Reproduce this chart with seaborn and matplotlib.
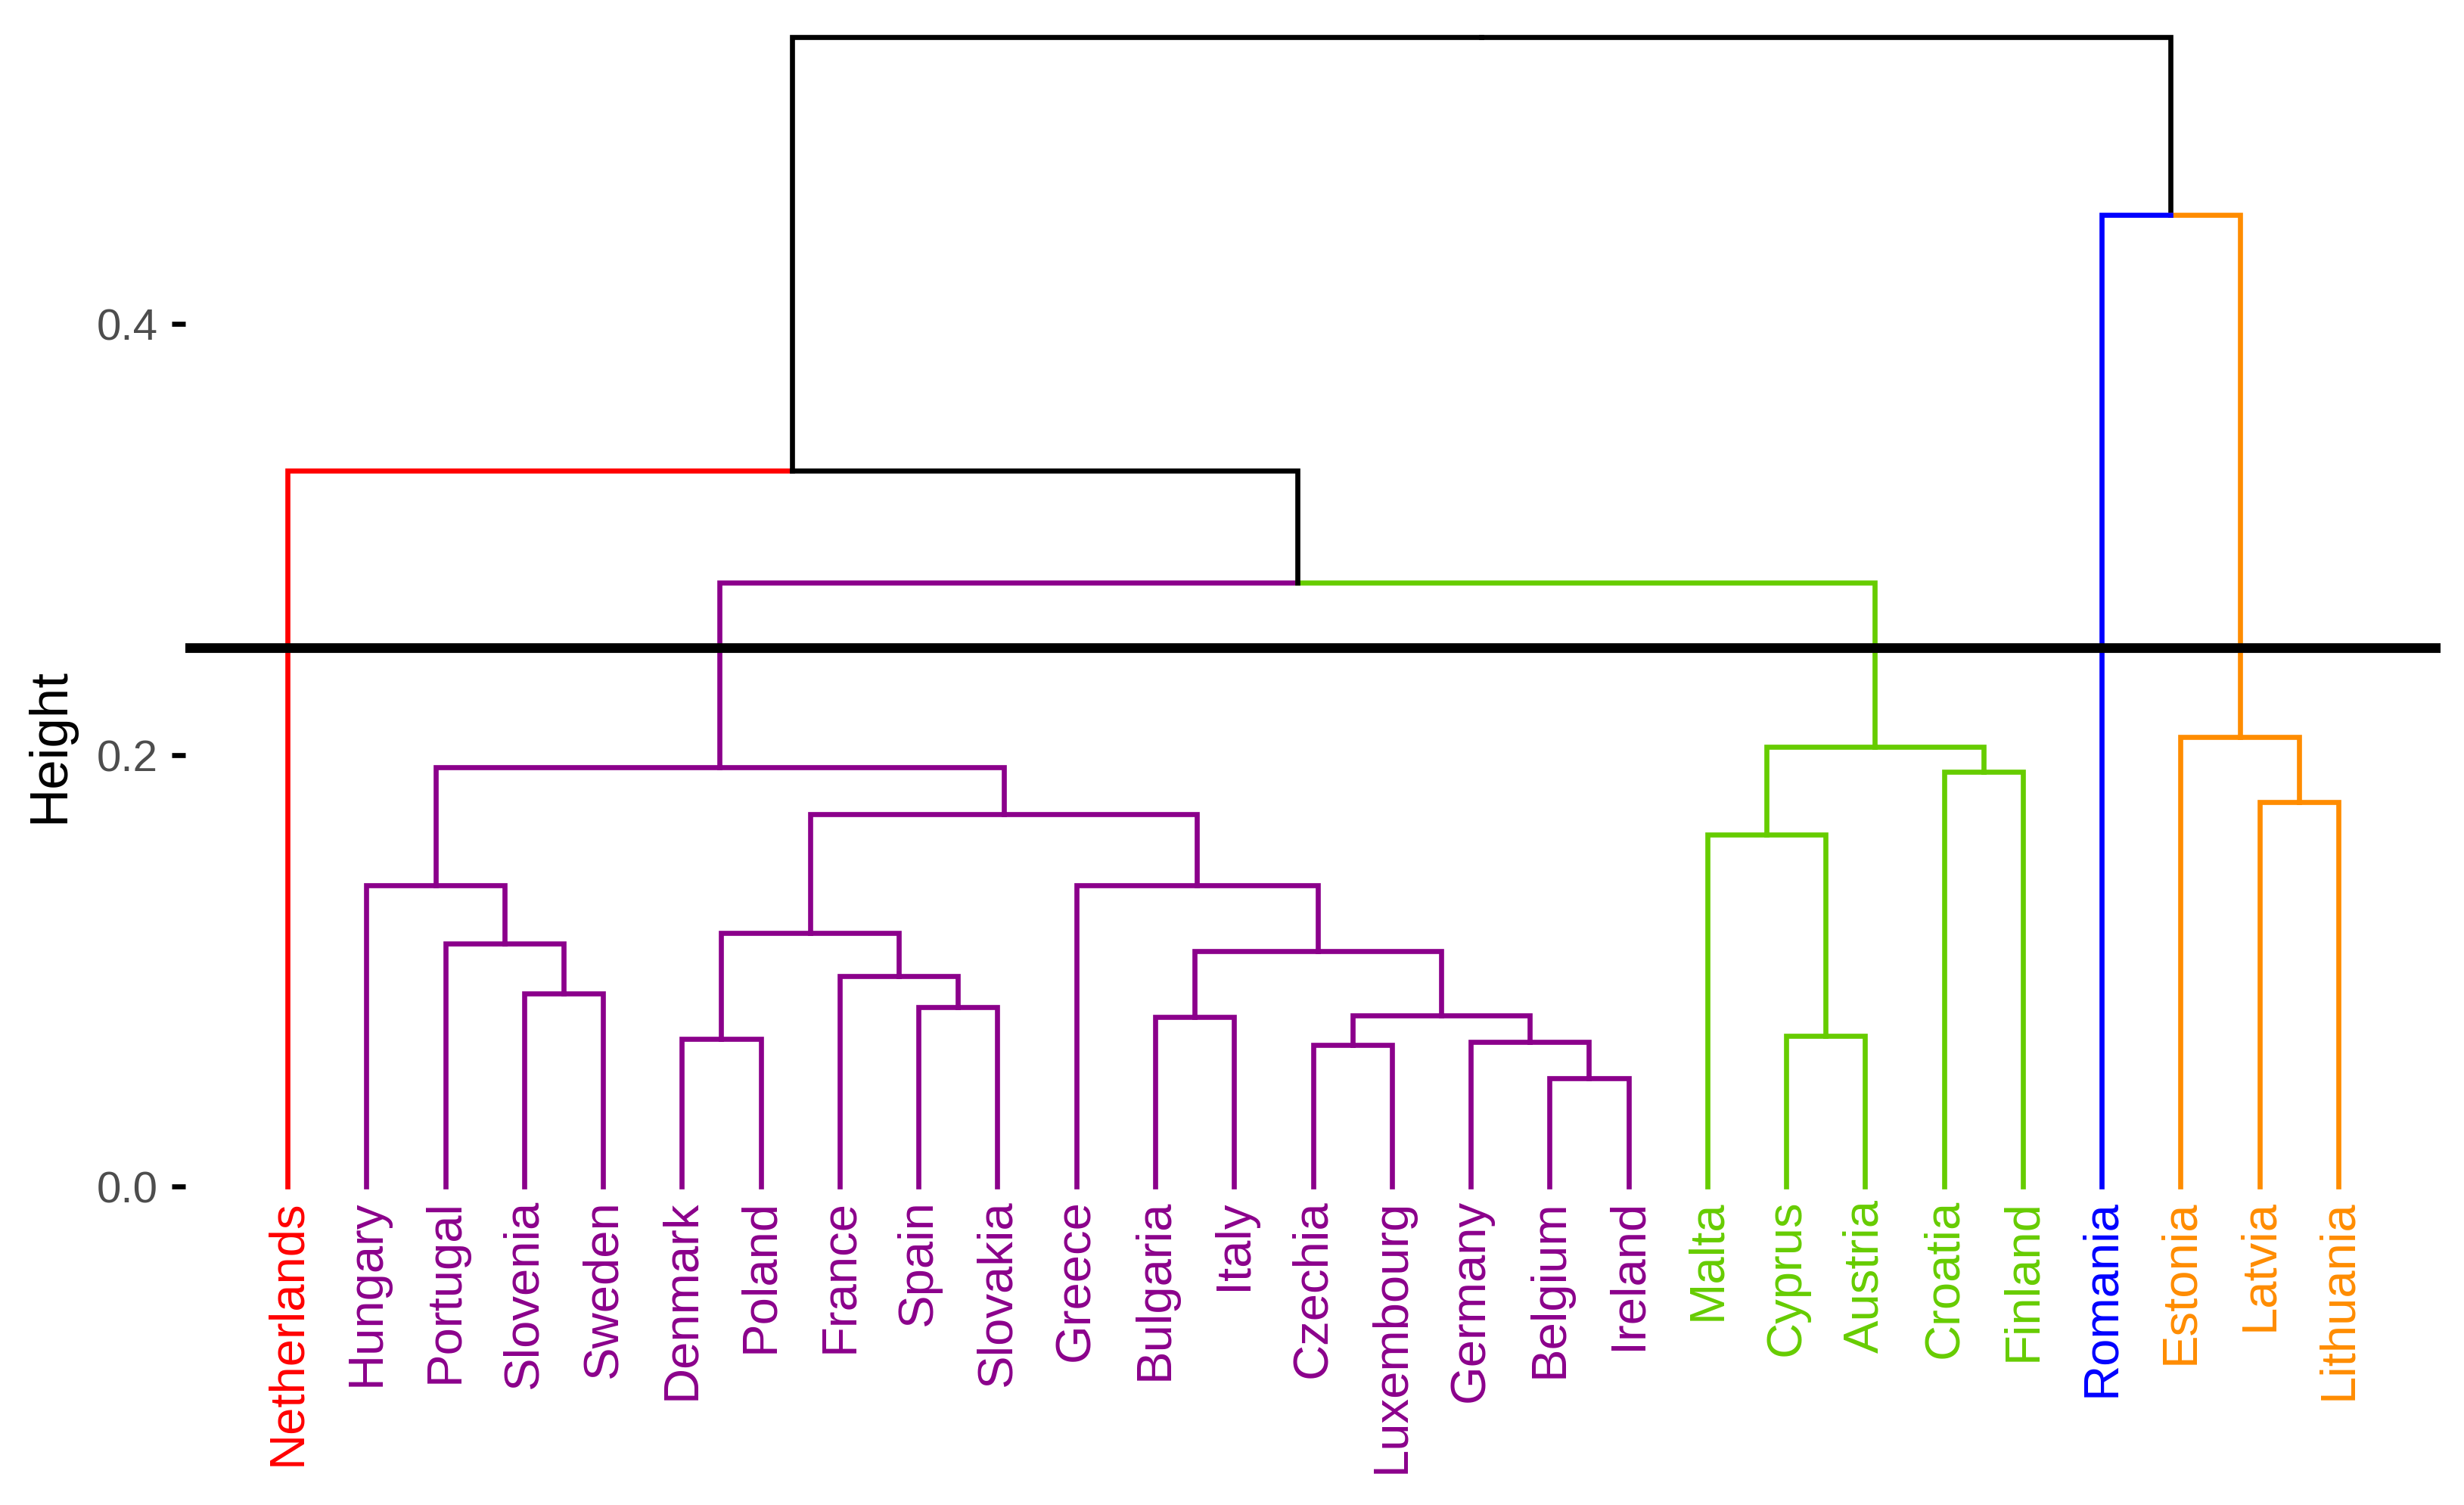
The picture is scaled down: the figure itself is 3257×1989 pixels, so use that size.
import numpy as np
import pandas as pd
import matplotlib
matplotlib.use("Agg")
import matplotlib.pyplot as plt
import seaborn as sns

# ---------------- data ----------------
leaves = ["Netherlands", "Hungary", "Portugal", "Slovenia", "Sweden", "Denmark",
          "Poland", "France", "Spain", "Slovakia", "Greece", "Bulgaria", "Italy",
          "Czechia", "Luxembourg", "Germany", "Belgium", "Ireland", "Malta",
          "Cyprus", "Austria", "Croatia", "Finland", "Romania", "Estonia",
          "Latvia", "Lithuania"]
leaf_cluster = [0, 1, 1, 1, 1, 1, 1, 1, 1, 1, 1, 1, 1, 1, 1, 1, 1, 1,
                2, 2, 2, 2, 2, 3, 4, 4, 4]
cluster_colors = ["#FF0000", "#8B008B", "#66CC00", "#0000FF", "#FF8C00"]

# merges (like a linkage table): children are leaf names or "m<k>"
merge_left = ["Slovenia", "Portugal", "Hungary", "Denmark", "Spain", "France", "m3",
              "Bulgaria", "Czechia", "Belgium", "Germany", "m8", "m7", "Greece",
              "m6", "m2", "Cyprus", "Malta", "Croatia", "m17", "m15",
              "Netherlands", "Latvia", "Estonia", "Romania", "m21"]
merge_right = ["Sweden", "m0", "m1", "Poland", "Slovakia", "m4", "m5",
               "Italy", "Luxembourg", "Ireland", "m9", "m10", "m11", "m12",
               "m13", "m14", "Austria", "m16", "Finland", "m18", "m19",
               "m20", "Lithuania", "m22", "m23", "m24"]
merge_height = [0.0895, 0.1125, 0.1395, 0.0684, 0.0830, 0.0975, 0.1175,
                0.0785, 0.0655, 0.0502, 0.0670, 0.0793, 0.1090, 0.1395,
                0.1725, 0.1945, 0.0698, 0.1630, 0.1922, 0.2040, 0.2800,
                0.3320, 0.1782, 0.2083, 0.4505, 0.5330]
cut_height = 0.25
yticks = [0.0, 0.2, 0.4]
ytick_labels = ["0.0", "0.2", "0.4"]

# ---------------- tree geometry ----------------
node_x, node_h, node_leaves = {}, {}, {}
for i, name in enumerate(leaves):
    node_x[name] = float(i)
    node_h[name] = 0.0
    node_leaves[name] = [i]
for k, (l, r, h) in enumerate(zip(merge_left, merge_right, merge_height)):
    key = f"m{k}"
    node_x[key] = (node_x[l] + node_x[r]) / 2
    node_h[key] = h
    node_leaves[key] = node_leaves[l] + node_leaves[r]


def node_color(key):
    cl = {leaf_cluster[i] for i in node_leaves[key]}
    return cluster_colors[cl.pop()] if len(cl) == 1 else "#000000"


rows = []
seg = 0
for k, (l, r, h) in enumerate(zip(merge_left, merge_right, merge_height)):
    px = node_x[f"m{k}"]
    for c in (l, r):
        col = node_color(c)
        for (xx, yy) in [(node_x[c], node_h[c]), (node_x[c], h), (px, h)]:
            rows.append({"x": xx, "y": yy, "seg": seg, "color": col})
        seg += 1
df = pd.DataFrame(rows)

# ---------------- plot ----------------
sns.set_style("white")
plt.rcParams["font.family"] = ["Liberation Sans", "DejaVu Sans"]

W, H, DPI = 3257, 1989, 200
fig = plt.figure(figsize=(W / DPI, H / DPI), dpi=DPI)
px_left, px_right, px_top, px_bottom = 245, 3226, 10, 1960
ax = fig.add_axes([px_left / W, 1 - px_bottom / H,
                   (px_right - px_left) / W, (px_bottom - px_top) / H])

palette = {c: c for c in df["color"].unique()}
sns.lineplot(data=df, x="x", y="y", units="seg", hue="color", palette=palette,
             estimator=None, sort=False, legend=False, linewidth=2.4,
             solid_joinstyle="miter", solid_capstyle="projecting", ax=ax)

ax.axhline(cut_height, color="black", linewidth=4.6, zorder=5)

y0_px, per_unit = 1568, 2850
ax.set_ylim(-(px_bottom - y0_px) / per_unit, (y0_px - px_top) / per_unit)
sp = 104.27
ax.set_xlim((px_left - 380) / sp, (px_right - 380) / sp)

for i, name in enumerate(leaves):
    ax.text(i, -0.006, name, rotation=90, ha="center", va="top",
            fontsize=23.5, color=cluster_colors[leaf_cluster[i]])

ax.set_xticks([])
ax.set_yticks(yticks)
ax.set_yticklabels(ytick_labels)
ax.tick_params(axis="y", length=6.4, width=2.4, pad=6.5, color="black",
               labelcolor="#4D4D4D", labelsize=21, left=True)
ax.set_xlabel("")
ax.set_ylabel("Height", fontsize=25.5, color="black")
ax.yaxis.set_label_coords(-0.049, 0.5)
for s in ax.spines.values():
    s.set_visible(False)

fig.savefig("out.png", dpi=DPI, facecolor="white")
